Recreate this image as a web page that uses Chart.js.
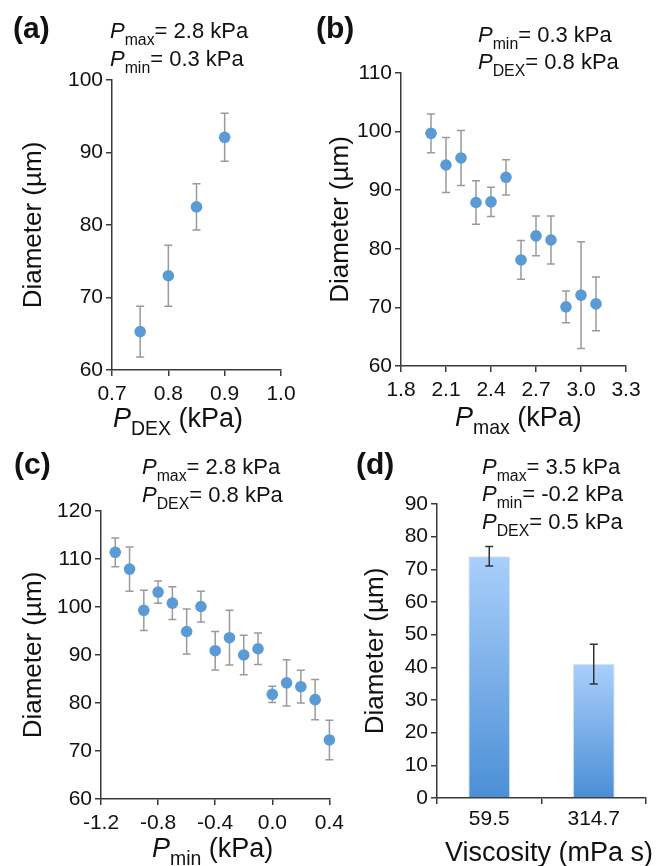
<!DOCTYPE html>
<html lang="en">
<head>
<meta charset="UTF-8">
<title>Droplet diameter</title>
<style>
    body, html {
        margin: 0;
        padding: 0;
        width: 662px;
        height: 866px;
        overflow: hidden;
        background: #fff;
    }
    canvas { position: absolute; }
    .txt {
        position: absolute;
        font-family: "Liberation Sans", Arial, sans-serif;
        color: #111;
        white-space: nowrap;
        line-height: 1;
    }
    .txt sub {
        font-size: 0.72em;
        vertical-align: -0.42em;
        line-height: 0;
    }
    .lbl { font-weight: bold; font-size: 30px; }
    .note { font-size: 22px; }
    .xt { font-size: 27px; }
</style>
</head>
<body>

<canvas id="chartA" width="320" height="420" style="left:0;top:0"></canvas>
<canvas id="chartB" width="342" height="420" style="left:320px;top:0"></canvas>
<canvas id="chartC" width="350" height="446" style="left:0;top:420px"></canvas>
<canvas id="chartD" width="322" height="446" style="left:340px;top:420px"></canvas>

<!-- panel letters -->
<div class="txt lbl" style="left:13px;top:13px">(a)</div>
<div class="txt lbl" style="left:316px;top:13px">(b)</div>
<div class="txt lbl" style="left:14px;top:449px">(c)</div>
<div class="txt lbl" style="left:356px;top:449px">(d)</div>

<!-- conditions -->
<div class="txt note" style="left:110px;top:20px"><i>P</i><sub>max</sub>= 2.8 kPa</div>
<div class="txt note" style="left:110px;top:48px"><i>P</i><sub>min</sub>= 0.3 kPa</div>

<div class="txt note" style="left:478px;top:24px"><i>P</i><sub>min</sub>= 0.3 kPa</div>
<div class="txt note" style="left:478px;top:51px"><i>P</i><sub>DEX</sub>= 0.8 kPa</div>

<div class="txt note" style="left:142px;top:456px"><i>P</i><sub>max</sub>= 2.8 kPa</div>
<div class="txt note" style="left:142px;top:484px"><i>P</i><sub>DEX</sub>= 0.8 kPa</div>

<div class="txt note" style="left:482px;top:456px"><i>P</i><sub>max</sub>= 3.5 kPa</div>
<div class="txt note" style="left:482px;top:483px"><i>P</i><sub>min</sub>= -0.2 kPa</div>
<div class="txt note" style="left:482px;top:511px"><i>P</i><sub>DEX</sub>= 0.5 kPa</div>

<!-- x axis titles -->
<div class="txt xt" style="left:113px;top:405px"><i>P</i><sub>DEX</sub> (kPa)</div>
<div class="txt xt" style="left:455px;top:404px"><i>P</i><sub>max</sub> (kPa)</div>
<div class="txt xt" style="left:152px;top:835px"><i>P</i><sub>min</sub> (kPa)</div>
<div class="txt xt" style="left:445px;top:839px">Viscosity (mPa s)</div>

<script src="https://cdn.jsdelivr.net/npm/chart.js"></script>
<script>
    // (a) diameter vs P_DEX
    const pDex = [0.75, 0.8, 0.85, 0.9];
    const diamA = [65.3, 73.0, 82.5, 92.1];
    const errA = [3.5, 4.2, 3.2, 3.3];

    // (b) diameter vs P_max
    const pMax = [2.0, 2.1, 2.2, 2.3, 2.4, 2.5, 2.6, 2.7, 2.8, 2.9, 3.0, 3.1];
    const diamB = [99.7, 94.3, 95.5, 87.9, 88.0, 92.2, 78.1, 82.2, 81.5, 70.1, 72.1, 70.6];
    const errB = [3.3, 4.7, 4.7, 3.7, 2.5, 3.0, 3.3, 3.4, 4.1, 2.7, 9.1, 4.6];

    // (c) diameter vs P_min
    const pMin = [-1.1, -1.0, -0.9, -0.8, -0.7, -0.6, -0.5, -0.4, -0.3, -0.2, -0.1, 0.0, 0.1, 0.2, 0.3, 0.4];
    const diamC = [111.4, 107.9, 99.3, 103.1, 100.8, 94.9, 100.1, 90.9, 93.6, 90.0, 91.3, 81.8, 84.2, 83.4, 80.7, 72.3];
    const errC = [3.0, 4.6, 4.2, 2.3, 3.4, 4.7, 3.2, 4.0, 5.7, 4.1, 3.3, 1.7, 4.8, 3.4, 4.2, 4.1];

    // (d) diameter vs viscosity
    const viscosity = ['59.5', '314.7'];
    const diamD = [74.0, 41.0];
    const errD = [3.0, 6.1];

    const FONT = '"Liberation Sans", Arial, sans-serif';
    const AXIS = '#3a3a3a';
    const DOT = '#5b9bd5';

    // draws vertical error bars using the chart's y scale
    const errorBars = {
        id: 'errorBars',
        beforeDatasetsDraw(chart, args, opts) {
            if (!opts.under) return;
            drawErrors(chart, opts);
        },
        afterDatasetsDraw(chart, args, opts) {
            if (opts.under) return;
            drawErrors(chart, opts);
        }
    };

    function drawErrors(chart, opts) {
        const ctx = chart.ctx;
        const y = chart.scales.y;
        chart.data.datasets.forEach((ds, di) => {
            if (!ds.errors) return;
            const meta = chart.getDatasetMeta(di);
            meta.data.forEach((el, i) => {
                const raw = ds.data[i];
                const v = typeof raw === 'object' ? raw.y : raw;
                const top = y.getPixelForValue(v + ds.errors[i]);
                const bot = y.getPixelForValue(v - ds.errors[i]);
                ctx.save();
                ctx.strokeStyle = opts.color;
                ctx.lineWidth = 1.5;
                ctx.beginPath();
                ctx.moveTo(el.x, top);
                ctx.lineTo(el.x, bot);
                ctx.moveTo(el.x - 4, top);
                ctx.lineTo(el.x + 4, top);
                ctx.moveTo(el.x - 4, bot);
                ctx.lineTo(el.x + 4, bot);
                ctx.stroke();
                ctx.restore();
            });
        });
    }

    function yAxis(min, max, width, titlePad) {
        return {
            min: min,
            max: max,
            border: { color: AXIS, width: 1.5 },
            grid: { drawOnChartArea: false, tickLength: 6, color: AXIS, lineWidth: 1.5 },
            ticks: { stepSize: 10, color: '#111', padding: 3, font: { family: FONT, size: 21 } },
            title: {
                display: true,
                text: 'Diameter (µm)',
                color: '#111',
                padding: { top: titlePad, bottom: 0 },
                font: { family: FONT, size: 26 }
            },
            afterFit: (scale) => { scale.width = width; }
        };
    }

    function xLinear(min, max, step) {
        return {
            type: 'linear',
            min: min,
            max: max,
            border: { color: AXIS, width: 1.5 },
            grid: { drawOnChartArea: false, tickLength: 6, color: AXIS, lineWidth: 1.5 },
            ticks: {
                stepSize: step,
                color: '#111',
                padding: 6,
                font: { family: FONT, size: 21 },
                callback: (v) => Number(v).toFixed(1)
            },
            afterFit: (scale) => { scale.height = 40; }
        };
    }

    function scatterChart(id, xs, ys, errs, xAxis, yAx, pad) {
        return new Chart(document.getElementById(id), {
            type: 'scatter',
            data: {
                datasets: [{
                    data: xs.map((x, i) => ({ x: x, y: ys[i] })),
                    errors: errs,
                    backgroundColor: DOT,
                    borderColor: DOT,
                    pointRadius: 5.8,
                    borderWidth: 0,
                    clip: false
                }]
            },
            options: {
                responsive: false,
                animation: false,
                events: [],
                layout: { padding: pad },
                plugins: {
                    legend: { display: false },
                    tooltip: { enabled: false },
                    errorBars: { color: '#9a9a9a', under: true }
                },
                scales: { x: xAxis, y: yAx }
            },
            plugins: [errorBars]
        });
    }

    scatterChart('chartA', pDex, diamA, errA,
        xLinear(0.7, 1.0, 0.1), yAxis(60, 100, 104, 10),
        { left: 8, top: 80, right: 39, bottom: 10 });

    scatterChart('chartB', pMax, diamB, errB,
        xLinear(1.8, 3.3, 0.3), yAxis(60, 110, 81, 5),
        { left: 0, top: 73, right: 36, bottom: 14 });

    scatterChart('chartC', pMin, diamC, errC,
        xLinear(-1.2, 0.4, 0.4), yAxis(60, 120, 93, 10),
        { left: 8, top: 91, right: 18, bottom: 27 });

    // (d) bars with a light-to-dark fill per bar
    const dY = yAxis(0, 90, 87, 10);
    new Chart(document.getElementById('chartD'), {
        type: 'bar',
        data: {
            labels: viscosity,
            datasets: [{
                data: diamD,
                errors: errD,
                barPercentage: 0.4,
                categoryPercentage: 1.0,
                borderWidth: 1,
                borderColor: 'rgba(205,225,248,0.9)',
                backgroundColor: (c) => {
                    const chart = c.chart;
                    const ys = chart.scales.y;
                    if (!chart.chartArea || !ys || c.dataIndex === undefined) return '#7fb0e6';
                    const g = chart.ctx.createLinearGradient(0, ys.getPixelForValue(diamD[c.dataIndex]), 0, ys.getPixelForValue(0));
                    g.addColorStop(0, '#aacffa');
                    g.addColorStop(1, '#4b8fd6');
                    return g;
                }
            }]
        },
        options: {
            responsive: false,
            animation: false,
            events: [],
            layout: { padding: { left: 10, top: 84, right: 16, bottom: 28 } },
            plugins: {
                legend: { display: false },
                tooltip: { enabled: false },
                errorBars: { color: '#333', under: false }
            },
            scales: {
                x: {
                    border: { color: AXIS, width: 1.5 },
                    grid: { drawOnChartArea: false, tickLength: 6, color: AXIS, lineWidth: 1.5, offset: true },
                    ticks: { color: '#111', padding: 3, font: { family: FONT, size: 21 } },
                    afterFit: (scale) => { scale.height = 40; }
                },
                y: dY
            }
        },
        plugins: [errorBars]
    });
</script>
</body>
</html>
